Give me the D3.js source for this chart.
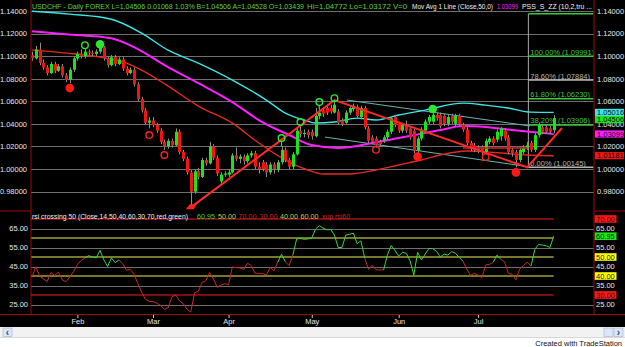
<!DOCTYPE html>
<html>
<head>
<meta charset="utf-8">
<script src="https://d3js.org/d3.v7.min.js"></script>
<style>
  body { margin: 0; background: #000; }
  svg { display: block; font-family: "Liberation Sans", Arial, sans-serif; }
</style>
</head>
<body>
<div id="vis"></div>
<script>
// frame and panel dimensions
const FRAME_WIDTH = 625;
const FRAME_HEIGHT = 347;
const PLOT = {left: 31, right: 594, top: 0, bottom: 211};
const RSI_PANEL = {top: 211, bottom: 314};
const FONT = 7.5;

// month labels and the bar where each month starts
const MONTHS = ["Feb", "Mar", "Apr", "May", "Jun", "Jul"];
const MONTH_START = [12, 32, 52, 74, 97, 118];

// daily USDCHF bars (mid Jan .. end of Jul)
const OPEN = [
  1.101,1.098,1.106,1.094,1.090,1.085,1.093,1.087,1.091,1.083,
  1.079,1.088,1.098,1.102,1.100,1.104,1.103,1.102,1.104,1.108,
  1.098,1.092,1.099,1.093,1.097,1.089,1.085,1.088,1.075,1.062,
  1.052,1.041,1.043,1.039,1.034,1.024,1.020,1.025,1.021,1.033,
  1.015,1.009,0.997,0.980,0.998,0.993,1.008,1.005,1.020,1.010,
  0.989,0.995,0.995,0.997,1.012,1.009,1.011,1.007,1.012,1.014,
  1.002,1.006,1.004,0.997,1.004,0.999,1.006,1.017,1.008,1.002,
  1.013,1.034,1.031,1.033,1.033,1.029,1.047,1.052,1.054,1.054,
  1.050,1.051,1.043,1.041,1.050,1.053,1.055,1.046,1.054,1.036,
  1.028,1.027,1.024,1.025,1.028,1.033,1.046,1.040,1.034,1.039,
  1.036,1.034,1.016,1.027,1.034,1.042,1.042,1.048,1.048,1.047,
  1.040,1.047,1.040,1.047,1.039,1.035,1.023,1.021,1.019,1.019,
  1.015,1.024,1.027,1.026,1.029,1.034,1.028,1.017,1.015,1.008,
  1.015,1.019,1.023,1.017,1.030,1.037,1.037,1.036,1.0344];
const HIGH = [
  1.104,1.109,1.112,1.097,1.092,1.095,1.095,1.093,1.093,1.085,
  1.090,1.100,1.104,1.106,1.107,1.106,1.105,1.106,1.109,1.109,
  1.100,1.101,1.101,1.099,1.099,1.091,1.090,1.090,1.077,1.064,
  1.054,1.046,1.046,1.041,1.036,1.026,1.027,1.027,1.036,1.035,
  1.017,1.011,0.999,1.000,1.001,1.010,1.010,1.024,1.022,1.012,
  0.997,0.998,1.000,1.014,1.019,1.013,1.013,1.014,1.016,1.016,
  1.006,1.008,1.006,1.006,1.006,1.008,1.020,1.019,1.010,1.015,
  1.037,1.039,1.035,1.035,1.035,1.054,1.053,1.055,1.056,1.057,
  1.061,1.053,1.045,1.052,1.056,1.058,1.057,1.056,1.056,1.038,
  1.030,1.029,1.026,1.030,1.035,1.047,1.048,1.042,1.041,1.043,
  1.038,1.036,1.029,1.037,1.044,1.048,1.050,1.050,1.050,1.049,
  1.048,1.049,1.049,1.049,1.041,1.037,1.025,1.023,1.021,1.021,
  1.027,1.029,1.029,1.035,1.037,1.036,1.030,1.019,1.017,1.019,
  1.021,1.024,1.025,1.032,1.041,1.040,1.039,1.038,1.0477];
const LOW = [
  1.096,1.097,1.092,1.088,1.083,1.084,1.085,1.086,1.081,1.077,
  1.076,1.086,1.096,1.098,1.098,1.101,1.100,1.100,1.102,1.096,
  1.090,1.091,1.091,1.092,1.087,1.083,1.084,1.073,1.060,1.050,
  1.039,1.036,1.037,1.032,1.022,1.017,1.018,1.019,1.020,1.013,
  1.007,0.995,0.966,0.978,0.991,0.992,1.003,1.004,1.008,0.994,
  0.987,0.993,0.993,0.996,1.007,1.005,1.004,1.005,1.010,1.000,
  0.996,0.998,0.993,0.995,0.996,0.997,1.004,1.006,1.000,1.000,
  1.012,1.028,1.028,1.027,1.026,1.028,1.044,1.046,1.048,1.049,
  1.049,1.039,1.038,1.040,1.048,1.051,1.045,1.044,1.035,1.023,
  1.022,1.019,1.020,1.023,1.026,1.031,1.037,1.032,1.032,1.032,
  1.026,1.014,1.014,1.025,1.032,1.040,1.040,1.043,1.036,1.038,
  1.038,1.040,1.038,1.038,1.033,1.021,1.016,1.015,1.014,1.012,
  1.013,1.022,1.021,1.024,1.025,1.025,1.013,1.011,1.0015,1.006,
  1.013,1.017,1.015,1.015,1.028,1.031,1.031,1.031,1.0317];
const CLOSE = [
  1.098,1.106,1.094,1.090,1.085,1.093,1.087,1.091,1.083,1.079,
  1.088,1.098,1.102,1.100,1.104,1.103,1.102,1.104,1.108,1.098,
  1.092,1.099,1.093,1.097,1.089,1.085,1.088,1.075,1.062,1.052,
  1.041,1.043,1.039,1.034,1.024,1.020,1.025,1.021,1.033,1.015,
  1.009,0.997,0.980,0.998,0.993,1.008,1.005,1.020,1.010,0.996,
  0.995,0.996,0.997,1.012,1.009,1.011,1.007,1.012,1.014,1.002,
  1.000,1.000,0.997,1.004,1.000,1.006,1.017,1.008,1.002,1.013,
  1.034,1.031,1.032,1.030,1.029,1.047,1.050,1.049,1.050,1.051,
  1.057,1.041,1.040,1.050,1.054,1.056,1.047,1.054,1.037,1.025,
  1.024,1.021,1.022,1.028,1.033,1.045,1.039,1.034,1.039,1.034,
  1.028,1.016,1.027,1.035,1.042,1.046,1.048,1.045,1.038,1.040,
  1.046,1.042,1.047,1.040,1.035,1.023,1.018,1.017,1.016,1.015,
  1.025,1.027,1.023,1.033,1.036,1.027,1.015,1.014,1.008,1.017,
  1.019,1.021,1.017,1.030,1.039,1.033,1.033,1.033,1.0451];

// indicator lines, [bar, price] read at points along each curve
const MA_CYAN = [[0,1.1398],[10,1.1372],[21,1.1327],[29,1.1204],[36,1.1053],[44,1.0938],
  [53,1.0788],[62,1.0611],[67,1.0496],[72,1.0434],[75,1.0407],[80,1.0416],[86,1.0451],
  [91,1.0434],[97,1.0478],[104,1.0522],[114,1.0584],[120,1.0566],[126,1.0540],[132,1.0504],[138,1.0502]];
const MA_MAGENTA = [[0,1.1221],[9,1.1195],[21,1.1159],[27,1.1080],[36,1.0903],[44,1.0761],
  [53,1.0593],[60,1.0434],[68,1.0301],[74,1.0212],[81,1.0186],[90,1.0230],[97,1.0274],
  [108,1.0345],[114,1.0381],[120,1.0372],[127,1.0345],[138,1.0310]];
const MA_RED = [[0,1.1053],[9,1.1027],[18,1.0991],[25,1.0938],[29,1.0876],[36,1.0735],
  [44,1.0558],[53,1.0407],[60,1.0230],[68,1.0062],[73,0.9991],[77,0.9956],[84,0.9956],
  [91,0.9991],[97,1.0035],[103,1.0080],[108,1.0124],[115,1.0159],[124,1.0142],[131,1.0124],[138,1.0118]];

// zigzag swing line, trend channel and support line
const ZIGZAG = [[42,0.966],[80,1.061],[131,1.0015],[140.2,1.0363]];
const CHANNEL_UPPER = [[83.3,1.0611],[131.7,1.0381]];
const CHANNEL_LOWER = [[77.5,1.0283],[131.7,1.0018]];
const SUPPORT = [[114,1.0186],[131,1.0186]];

// signal markers [bar, price]
const GREEN_RINGS = [[14,1.1097],[66,1.0274],[71,1.0416],[76,1.0593],[80,1.0628]];
const GREEN_DOTS = [[18,1.1106],[106,1.0531]];
const RED_RINGS = [[31,1.0301],[35,1.0124],[91,1.017],[120,1.0106]];
const RED_DOTS = [[10,1.0717],[102,1.011],[128,0.997]];

// fibonacci retracement
const FIB_LEVELS = ["138.20%", "100.00%", "78.60%", "61.80%", "38.20%", "0.00%"];
const FIB_PRICES = [1.13752, 1.09991, 1.07884, 1.06230, 1.03906, 1.00145];
const FIB_START = 131.3;

// axis ticks
const PRICE_TICKS = [0.98, 1.00, 1.02, 1.04, 1.06, 1.08, 1.10, 1.12, 1.14];
const LAST_PRICES = [1.05016, 1.04506, 1.03099, 1.01181];
const RSI_TICKS = [25, 35, 45, 55, 65];
const RSI_LEVELS = [70, 60, 50, 40, 30];
const RSI_BOXES = [70, 60.95, 50, 40, 30];

// rsi(14) values per bar and the bar runs drawn in green
const RSI = [
  39.6,44.9,40,38.5,37,41.8,40.3,42,38,37,
  39.5,42.3,46,48.2,49.5,50.7,50,49.6,53.5,48.5,
  45,49.5,47,48.5,46.5,43,43.5,41,36,31.5,
  27.8,26.6,26.6,25.7,24.5,22.5,23.3,29,30,27,
  25.5,22.5,21,31.2,32,36.7,37.5,41.8,38.5,34,
  35.2,36,35.5,44.8,44.4,44.3,43.5,46.7,45.5,41.4,
  41.4,41.3,40.5,44.5,42.8,47.2,51.5,47.5,45.5,51,
  59.5,59.8,59.3,59.5,60,64.7,66.5,65.2,64.3,64.5,
  61.5,55,55,61.6,61.9,62.5,57,58.5,49.5,43.5,
  45.6,43.3,43.2,43.2,51,56,53.5,50.5,52.5,52,
  48,40.5,52.5,48.5,51.5,54.5,54.4,53,50,51.5,
  51,52.8,52,49.8,47.8,43.7,40.3,41.4,40.5,39.1,
  45.8,46.1,47.2,51,48.8,47.5,41.4,40.9,38,43.7,
  45.5,47.3,45.2,54,56.6,56.3,55.9,55,60.95];
const RSI_GREEN_RUNS = [[14,23],[65,67],[69,88],[93,114],[122,124],[132,138]];

const N = CLOSE.length;

// scales
const X = d3.scaleLinear().domain([0, N - 1]).range([32, 553.7]);
const Y = d3.scaleLinear().domain([1.00, 1.14]).range([169, 11]);
const Y_RSI = d3.scaleLinear().domain([25, 65]).range([304.5, 228.5]);

const FRAME = d3.select("#vis")
  .append("svg")
    .attr("width", FRAME_WIDTH)
    .attr("height", FRAME_HEIGHT);

FRAME.append("rect").attr("width", FRAME_WIDTH).attr("height", FRAME_HEIGHT).attr("fill", "#000");

FRAME.append("clipPath").attr("id", "clipMain")
  .append("rect").attr("x", PLOT.left + 0.5).attr("y", 0)
  .attr("width", PLOT.right - PLOT.left - 1).attr("height", PLOT.bottom);

// one piece of header text squeezed to the width seen in the chart
function header_text(x, y, txt, color, len) {
  FRAME.append("text")
    .attr("x", x).attr("y", y)
    .attr("fill", color)
    .attr("font-size", FONT)
    .attr("textLength", len)
    .attr("lengthAdjust", "spacingAndGlyphs")
    .text(txt);
}

function build_price_panel() {
  // horizontal grid
  FRAME.append("g")
    .attr("transform", "translate(" + PLOT.left + ",0)")
    .call(d3.axisLeft(Y).tickValues(PRICE_TICKS).tickSize(-(PLOT.right - PLOT.left)).tickFormat(""))
    .call(g => g.select(".domain").remove())
    .call(g => g.selectAll("line").attr("stroke", "#6e6e6e").attr("shape-rendering", "crispEdges"));

  // left and right price labels
  FRAME.append("g")
    .attr("transform", "translate(27,0)")
    .call(d3.axisLeft(Y).tickValues(PRICE_TICKS).tickSize(0).tickPadding(0).tickFormat(d3.format(".5f")))
    .call(g => g.select(".domain").remove())
    .call(g => g.selectAll("text").attr("fill", "#e6e6e6").attr("font-size", FONT).attr("font-family", "Liberation Sans, Arial"));

  FRAME.append("g")
    .attr("transform", "translate(597,0)")
    .call(d3.axisRight(Y).tickValues(PRICE_TICKS).tickSize(0).tickPadding(0).tickFormat(d3.format(".5f")))
    .call(g => g.select(".domain").remove())
    .call(g => g.selectAll("text").attr("fill", "#e6e6e6").attr("font-size", FONT).attr("font-family", "Liberation Sans, Arial"));

  const main = FRAME.append("g").attr("clip-path", "url(#clipMain)");

  // fibonacci levels
  const fibColor = (lvl) => (lvl == "78.60%" || lvl == "0.00%") ? "#b4b4b4" : "#3cc83c";
  main.append("line")
    .attr("x1", X(FIB_START)).attr("x2", X(FIB_START))
    .attr("y1", Y(FIB_PRICES[0])).attr("y2", Y(FIB_PRICES[FIB_PRICES.length - 1]))
    .attr("stroke", "#aaa").attr("stroke-width", 1);
  main.selectAll(".fib")
    .data(FIB_LEVELS)
    .enter()
    .append("line")
      .attr("x1", X(FIB_START)).attr("x2", PLOT.right)
      .attr("y1", (d, i) => Y(FIB_PRICES[i])).attr("y2", (d, i) => Y(FIB_PRICES[i]))
      .attr("stroke", (d) => fibColor(d)).attr("stroke-width", 1.5);
  main.selectAll(".fibLabel")
    .data(FIB_LEVELS.slice(1))
    .enter()
    .append("text")
      .attr("x", X(FIB_START) + 2)
      .attr("y", (d, i) => Y(FIB_PRICES[i + 1]) - 1.5)
      .attr("fill", (d) => fibColor(d))
      .attr("font-size", FONT)
      .text((d, i) => d + " (" + d3.format(".5f")(FIB_PRICES[i + 1]) + ")");

  // trend channel
  const line = d3.line().x(d => X(d[0])).y(d => Y(d[1]));
  [CHANNEL_UPPER, CHANNEL_LOWER].forEach((c) => {
    main.append("path").attr("d", line(c)).attr("fill", "none")
      .attr("stroke", "#69b4b4").attr("stroke-width", 1);
  });

  // moving average lines
  const curve = d3.line().x(d => X(d[0])).y(d => Y(d[1])).curve(d3.curveMonotoneX);
  main.append("path").attr("d", curve(MA_RED)).attr("fill", "none").attr("stroke", "#e8281e").attr("stroke-width", 1.4);
  main.append("path").attr("d", curve(MA_MAGENTA)).attr("fill", "none").attr("stroke", "#ff1eff").attr("stroke-width", 2);
  main.append("path").attr("d", curve(MA_CYAN)).attr("fill", "none").attr("stroke", "#3ce6e6").attr("stroke-width", 1.4);

  // candles
  const bw = 3;
  const bars = d3.range(N);
  main.selectAll(".wick")
    .data(bars)
    .enter()
    .append("line")
      .attr("x1", (i) => Math.round(X(i)) + 0.5).attr("x2", (i) => Math.round(X(i)) + 0.5)
      .attr("y1", (i) => Y(HIGH[i])).attr("y2", (i) => Y(LOW[i]))
      .attr("stroke", "#8c8c8c").attr("stroke-width", 1);
  main.selectAll(".body")
    .data(bars)
    .enter()
    .append("rect")
      .attr("x", (i) => Math.round(X(i)) + 0.5 - bw / 2)
      .attr("y", (i) => Y(Math.max(OPEN[i], CLOSE[i])))
      .attr("width", bw)
      .attr("height", (i) => Math.max(1, Math.abs(Y(OPEN[i]) - Y(CLOSE[i]))))
      .attr("fill", (i) => CLOSE[i] >= OPEN[i] ? "#19e619" : "#f01414");

  // support line and zigzag
  main.append("path").attr("d", line(SUPPORT)).attr("stroke", "#e61e1e").attr("stroke-width", 1.3).attr("fill", "none");
  main.append("path").attr("d", line(ZIGZAG)).attr("stroke", "#ff2828").attr("stroke-width", 2).attr("fill", "none");
  const zx = X(ZIGZAG[0][0]), zy = Y(ZIGZAG[0][1]);
  FRAME.append("path")
    .attr("d", "M" + (zx - 5) + "," + (zy + 2) + "L" + (zx + 3) + "," + (zy + 2) + "L" + (zx + 6) + "," + (zy - 3) + "L" + (zx - 1) + "," + (zy - 3) + "Z")
    .attr("fill", "#ff2020");

  // signal markers with stems for the green ones
  const stem = (d) => main.append("line")
    .attr("x1", X(d[0])).attr("x2", X(d[0]))
    .attr("y1", Y(d[1]) + 3).attr("y2", Y(HIGH[d[0]]))
    .attr("stroke", "#2de62d").attr("stroke-width", 1.2);
  GREEN_RINGS.forEach(stem);
  GREEN_DOTS.forEach(stem);
  main.selectAll(".gring").data(GREEN_RINGS).enter().append("circle")
    .attr("cx", d => X(d[0])).attr("cy", d => Y(d[1])).attr("r", 3.3)
    .attr("fill", "none").attr("stroke", "#2de62d").attr("stroke-width", 1.4);
  main.selectAll(".gdot").data(GREEN_DOTS).enter().append("circle")
    .attr("cx", d => X(d[0])).attr("cy", d => Y(d[1])).attr("r", 4.3)
    .attr("fill", "#2de62d");
  main.selectAll(".rring").data(RED_RINGS).enter().append("circle")
    .attr("cx", d => X(d[0])).attr("cy", d => Y(d[1])).attr("r", 3.3)
    .attr("fill", "none").attr("stroke", "#ff2020").attr("stroke-width", 1.4);
  main.selectAll(".rdot").data(RED_DOTS).enter().append("circle")
    .attr("cx", d => X(d[0])).attr("cy", d => Y(d[1])).attr("r", 4.3)
    .attr("fill", "#ff1a1a");

  // last value boxes on the right axis
  const boxColors = ["#3ce6e6", "#19e619", "#ff1eff", "#f01414"];
  let prevBottom = -1;
  LAST_PRICES.forEach((p, i) => {
    const top = Math.max(Y(p) - 3.6, prevBottom);
    prevBottom = top + 7.2;
    FRAME.append("rect").attr("x", 595).attr("y", top).attr("width", 29).attr("height", 7.2).attr("fill", boxColors[i]);
    FRAME.append("text").attr("x", 597).attr("y", top + 6.3).attr("font-size", FONT).attr("fill", "#111")
      .text(d3.format(".5f")(p));
  });
}

function build_rsi_panel() {
  // gray grid across the panel
  FRAME.append("g")
    .attr("transform", "translate(" + PLOT.left + ",0)")
    .call(d3.axisLeft(Y_RSI).tickValues(RSI_TICKS).tickSize(-(PLOT.right - PLOT.left)).tickFormat(""))
    .call(g => g.select(".domain").remove())
    .call(g => g.selectAll("line").attr("stroke", "#6e6e6e").attr("shape-rendering", "crispEdges"));

  // level lines
  FRAME.selectAll(".lvl")
    .data(RSI_LEVELS)
    .enter()
    .append("line")
      .attr("x1", PLOT.left).attr("x2", X(N - 1))
      .attr("y1", d => Y_RSI(d)).attr("y2", d => Y_RSI(d))
      .attr("stroke", d => (d == 70 || d == 30) ? "#a01414" : "#a0a03c")
      .attr("stroke-width", 1.5);

  // labels
  FRAME.append("g")
    .attr("transform", "translate(28,0)")
    .call(d3.axisLeft(Y_RSI).tickValues(RSI_TICKS).tickSize(0).tickPadding(0).tickFormat(d3.format(".2f")))
    .call(g => g.select(".domain").remove())
    .call(g => g.selectAll("text").attr("fill", "#e6e6e6").attr("font-size", FONT).attr("font-family", "Liberation Sans, Arial"));
  FRAME.append("g")
    .attr("transform", "translate(596,0)")
    .call(d3.axisRight(Y_RSI).tickValues(RSI_TICKS).tickSize(0).tickPadding(0).tickFormat(d3.format(".2f")))
    .call(g => g.select(".domain").remove())
    .call(g => g.selectAll("text").attr("fill", "#e6e6e6").attr("font-size", FONT).attr("font-family", "Liberation Sans, Arial"));

  const boxColor = (v) => v == 70 || v == 30 ? "#ff1414" : (v == 50 || v == 40 ? "#ffff00" : "#19e619");
  RSI_BOXES.forEach((v) => {
    FRAME.append("rect").attr("x", 594.5).attr("y", Y_RSI(v) - 3.8).attr("width", 22).attr("height", 7.6).attr("fill", boxColor(v));
    FRAME.append("text").attr("x", 596).attr("y", Y_RSI(v) + 2.7).attr("font-size", FONT).attr("fill", "#222")
      .text(d3.format(".2f")(v));
  });

  // rsi line split into green and red runs
  const isGreen = (i) => RSI_GREEN_RUNS.some(r => i >= r[0] && i + 1 <= r[1]);
  const rsiLine = d3.line().x(i => X(i)).y(i => Y_RSI(RSI[i]));
  d3.range(N - 1).forEach((i) => {
    FRAME.append("path")
      .attr("d", rsiLine([i, i + 1]))
      .attr("stroke", isGreen(i) ? "#3cd23c" : "#c82828")
      .attr("stroke-width", 1)
      .attr("fill", "none");
  });

  // time axis
  FRAME.append("g")
    .attr("transform", "translate(0," + RSI_PANEL.bottom + ")")
    .call(d3.axisBottom(X).tickValues(MONTH_START).tickSize(4).tickPadding(1).tickFormat((d, i) => MONTHS[i]))
    .call(g => g.select(".domain").remove())
    .call(g => g.selectAll("line").attr("stroke", "#ccc"))
    .call(g => g.selectAll("text").attr("fill", "#e6e6e6").attr("font-size", FONT).attr("font-family", "Liberation Sans, Arial"));
}

function build_frame() {
  const red = "#a00a0a";
  FRAME.append("line").attr("x1", PLOT.left).attr("x2", PLOT.left).attr("y1", 0).attr("y2", RSI_PANEL.bottom).attr("stroke", red);
  FRAME.append("line").attr("x1", PLOT.right).attr("x2", PLOT.right).attr("y1", 0).attr("y2", RSI_PANEL.bottom).attr("stroke", red);
  FRAME.append("line").attr("x1", 0).attr("x2", FRAME_WIDTH).attr("y1", RSI_PANEL.bottom + 0.5).attr("y2", RSI_PANEL.bottom + 0.5).attr("stroke", red);
  FRAME.append("line").attr("x1", 0).attr("x2", PLOT.left).attr("y1", PLOT.bottom).attr("y2", PLOT.bottom).attr("stroke", red);
  FRAME.append("line").attr("x1", PLOT.right).attr("x2", FRAME_WIDTH).attr("y1", PLOT.bottom).attr("y2", PLOT.bottom).attr("stroke", red);

  // headers
  header_text(32, 8.5, "USDCHF - Daily  FOREX  L=1.04506  0.01068  1.03%  B=1.04506  A=1.04528  O=1.03439", "#5ad23c", 272);
  header_text(307, 8.5, "Hi=1.04772  Lo=1.03172  V=0", "#5ad23c", 100);
  header_text(412, 8.5, "Mov Avg 1 Line (Close,50,0)", "#f0f0f0", 81);
  header_text(497, 8.5, "1.03099", "#ff1eff", 21);
  header_text(522, 8.5, "PSS_S_ZZ (10,2,tru ...", "#f0f0f0", 70);

  header_text(32, 218.5, "rsi crossing 50 (Close,14,50,40,60,30,70,red,green)", "#f0f0f0", 156);
  header_text(197, 218.5, "60.95", "#3cd23c", 18);
  header_text(218, 218.5, "50.00", "#c8c850", 18);
  header_text(238.5, 218.5, "70.00", "#c82828", 18);
  header_text(259.5, 218.5, "30.00", "#c82828", 18);
  header_text(280, 218.5, "40.00", "#c8c850", 18);
  header_text(300.5, 218.5, "60.00", "#c8c850", 18);
  header_text(322, 218.5, "xup rsi60", "#c82828", 28);

  // scroll bar strip and footer
  FRAME.append("rect").attr("x", 0).attr("y", 327).attr("width", FRAME_WIDTH).attr("height", 20).attr("fill", "#fff");
  FRAME.append("rect").attr("x", 0).attr("y", 327).attr("width", FRAME_WIDTH).attr("height", 10).attr("fill", "#f2f2f2");
  FRAME.append("line").attr("x1", 0).attr("x2", FRAME_WIDTH).attr("y1", 337.5).attr("y2", 337.5).attr("stroke", "#d8d8d8");
  [[3, "‹"], [604, ""], [614, "›"]].forEach((b) => {
    FRAME.append("rect").attr("x", b[0]).attr("y", 328).attr("width", 9).attr("height", 8.5)
      .attr("fill", "#dce6f4").attr("stroke", "#9fb2cc").attr("stroke-width", 0.6);
    FRAME.append("text").attr("x", b[0] + 4.5).attr("y", 335.5).attr("text-anchor", "middle")
      .attr("font-size", 10).attr("font-weight", "bold").attr("fill", "#2a4a8a").text(b[1]);
  });
  FRAME.append("text").attr("x", 622).attr("y", 345.5).attr("text-anchor", "end")
    .attr("font-size", FONT).attr("fill", "#111").text("Created with TradeStation");
}

build_price_panel();
build_rsi_panel();
build_frame();
</script>
</body>
</html>
